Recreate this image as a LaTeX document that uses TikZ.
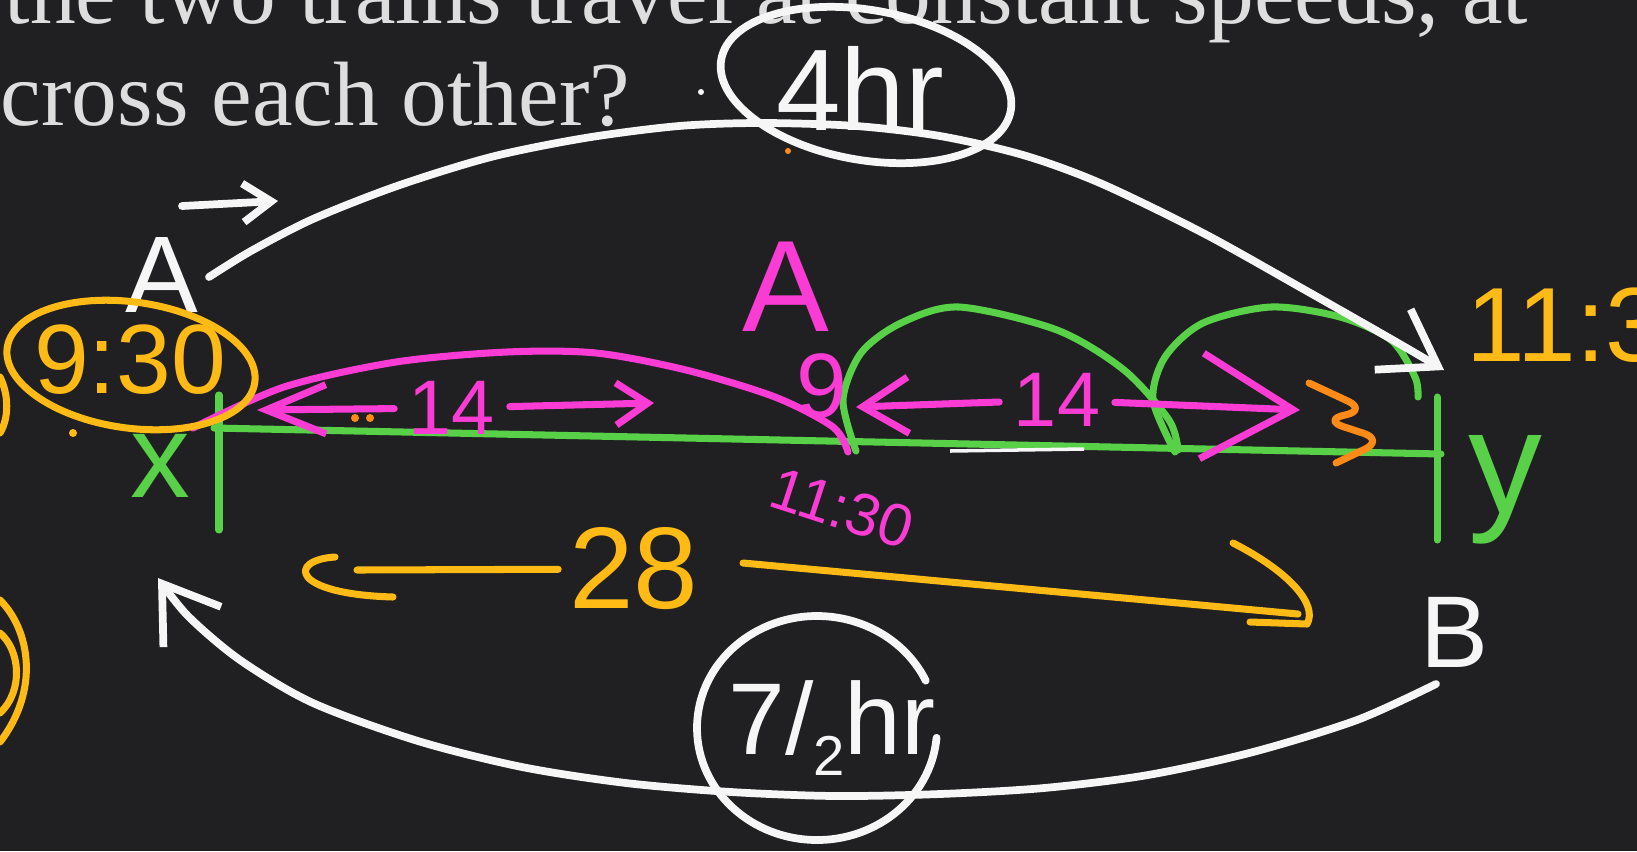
\documentclass[tikz,border=0pt]{standalone}
\usepackage{fontspec}
\setmainfont{Liberation Serif}
\newfontfamily\handfont{Liberation Sans}
\usetikzlibrary{arrows.meta}
\definecolor{board}{RGB}{32,32,34}
\definecolor{chalk}{RGB}{246,246,246}
\definecolor{printgray}{RGB}{222,222,222}
\definecolor{pengreen}{RGB}{88,208,72}
\definecolor{penpink}{RGB}{250,60,212}
\definecolor{penyellow}{RGB}{255,186,22}
\definecolor{penorange}{RGB}{255,138,24}
\newcommand{\penfont}[1]{\handfont\fontsize{#1}{#1}\selectfont}

\begin{document}
\begin{tikzpicture}[x=0.01cm, y=-0.01cm]

        % 1. Board and the printed question (pixel units, y runs down)
        \fill[board] (0,0) rectangle (1637,851);
        \useasboundingbox (0,0) rectangle (1637,851);
        \clip (0,0) rectangle (1637,851);

        \tikzset{pen/.style={line width=2.2pt, line cap=round, line join=round},
                 chalkline/.style={pen, draw=chalk},
                 greenline/.style={pen, draw=pengreen, line width=2pt},
                 pinkline/.style={pen, draw=penpink, line width=2pt},
                 yellowline/.style={pen, draw=penyellow, line width=2pt},
                 penlabel/.style={inner sep=0pt}}

        \node[anchor=base west, inner sep=0pt, text=printgray, font=\fontsize{26}{26}\selectfont] (qlineA) at (4,23) {the two trains travel at constant speeds, at};
        \node[anchor=base west, inner sep=0pt, text=printgray, font=\fontsize{26}{26}\selectfont] (qlineB) at (0,125) {cross each other?};

        % 2. Track x--y with its end ticks
        \coordinate (X) at (214,428);
        \coordinate (Y) at (1441,454);
        \draw[greenline] (X) -- (Y);
        \draw[greenline] (219,395) -- (219,530);
        \draw[greenline] (1437,397) -- (1437,540);
        \draw[chalk, line width=1pt] (950,451) -- (1084,449);
        \node[penlabel, text=pengreen, font=\penfont{34}] (xlabel) at (160,466) {x};
        \node[penlabel, text=pengreen, font=\penfont{42}] (ylabel) at (1505,490) {y};

        % hops of 14 on the right half
        \draw[greenline] plot[smooth] coordinates {(856,451) (843,400) (861,353) (901,323) (959,307) (1057,330) (1124,370) (1169,420) (1178,450)};
        \draw[greenline] plot[smooth] coordinates {(1175,452) (1153,400) (1165,357) (1203,323) (1271,307) (1340,317) (1391,340) (1415,377) (1418,397)};

        % 3. Train A and train B (white)
        \node[penlabel, text=chalk, font=\penfont{31}] (trainA) at (162,275) {A};
        \node[penlabel, text=chalk, font=\penfont{29}] (trainB) at (1454,632) {B};
        \coordinate (arrowS) at (182,206);
        \coordinate (arrowE) at (278,201);
        \draw[chalkline, -{Straight Barb[length=8pt, width=11pt]}] (arrowS) -- (arrowE);

        % A to B, four hours
        \draw[chalkline, -{Straight Barb[length=15pt, width=20pt]}] plot[smooth] coordinates {(209,277) (251,251) (313,219) (397,186) (491,157) (585,138) (679,126) (762,123) (856,126) (940,136) (1023,155) (1100,183) (1203,233) (1305,290) (1398,343) (1444,370)};
        \node[penlabel, text=chalk, font=\penfont{33}] (fourhr) at (860,88) {4hr};
        \draw[chalkline, rotate around={-10:(866,85)}] (866,85) ellipse [x radius=147, y radius=75];
        \fill[chalk] (701,92) circle (3);

        % B to A, seven halves of an hour
        \draw[chalkline, -{Straight Barb[length=15pt, width=20pt]}] plot[smooth] coordinates {(1436,684) (1357,720) (1253,752) (1148,775) (1044,788) (940,794) (835,796) (731,792) (626,783) (522,767) (418,741) (313,703) (240,660) (188,616) (158,578)};
        \node[penlabel, text=chalk, font=\penfont{29}] (sevenhr) at (832,728) {7/\raisebox{-0.4ex}{\penfont{16}2}hr};
        \draw[chalkline] (817,728) ++({120*cos(5)},{112*sin(5)}) arc[start angle=5, end angle=335, x radius=120, y radius=112];

        % 4. Meeting point (pink)
        \draw[pinkline] plot[smooth] coordinates {(193,428) (284,387) (396,362) (507,352) (596,353) (686,370) (775,397) (833,427) (848,452)};
        \node[penlabel, inner sep=4pt, text=penpink, font=\penfont{22}] (fourteenL) at (452,408) {14};
        \coordinate (fourteenLtipL) at (257,410);
        \coordinate (fourteenLtipR) at (654,403);
        \draw[pinkline, -{Straight Barb[length=17pt, width=14pt]}] (fourteenL) -- (fourteenLtipL);
        \draw[pinkline, -{Straight Barb[length=9pt, width=12pt]}] (fourteenL) -- (fourteenLtipR);

        \node[penlabel, inner sep=4pt, text=penpink, font=\penfont{22}] (fourteenR) at (1057,400) {14};
        \coordinate (fourteenRtipL) at (856,407);
        \coordinate (fourteenRtipR) at (1300,410);
        \draw[pinkline, -{Straight Barb[length=13pt, width=16pt]}] (fourteenR) -- (fourteenRtipL);
        \draw[pinkline, -{Straight Barb[length=26pt, width=30pt]}] (fourteenR) -- (fourteenRtipR);

        \node[penlabel, text=penpink, font=\penfont{37}] (meetA) at (786,287) {A};
        \node[penlabel, text=penpink, font=\penfont{26}] (meetnine) at (822,386) {9};
        \node[penlabel, text=penpink, font=\penfont{17}, rotate=-18] (meettime) at (842,508) {11:30};

        % 5. Times and distance (yellow / orange)
        \node[penlabel, text=penyellow, font=\penfont{28}] (startA) at (130,360) {9:30};
        \draw[yellowline, rotate around={-8:(131,365)}] (131,365) ellipse [x radius=125, y radius=63];
        \node[penlabel, anchor=west, text=penyellow, font=\penfont{30}] (endB) at (1466,325) {11:30};

        \node[penlabel, inner sep=3pt, text=penyellow, font=\penfont{33}] (dist) at (634,569) {28};
        \coordinate (distL) at (357,570);
        \coordinate (distRa) at (743,563);
        \coordinate (distRb) at (1298,614);
        \draw[yellowline] (dist) -- (distL);
        \draw[yellowline] (335,557) .. controls (288,560) and (290,594) .. (393,597);
        \draw[yellowline] (distRa) -- (distRb);
        \draw[yellowline] (1233,543) .. controls (1290,572) and (1318,605) .. (1307,624) -- (1250,622);

        % scraps at the left edge
        \draw[yellowline] (0,377) .. controls (9,395) and (9,418) .. (0,433);
        \draw[yellowline] (0,600) .. controls (30,630) and (40,690) .. (0,742);
        \draw[yellowline] (0,633) .. controls (20,650) and (24,690) .. (0,713);
        \fill[penyellow] (73,433) circle (4);
        \fill[penorange] (355,418) circle (4);
        \fill[penorange] (370,418) circle (4);
        \fill[penorange] (788,151) circle (3);
        \draw[pen, draw=penorange, line width=2pt, rounded corners=6pt] (1309,383) -- (1367,410) -- (1323,420) -- (1384,440) -- (1336,463);

\end{tikzpicture}
\end{document}
